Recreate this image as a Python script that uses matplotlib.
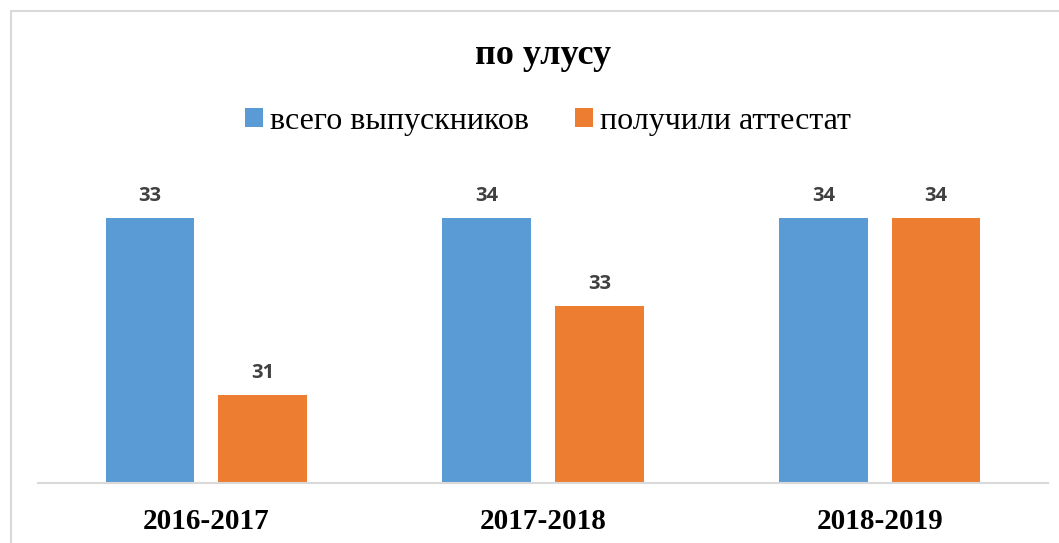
import matplotlib
matplotlib.use("Agg")
import matplotlib.pyplot as plt
from matplotlib.patches import Rectangle
import numpy as np

# data
categories = ["2016-2017", "2017-2018", "2018-2019"]
series_names = ["всего выпускников", "получили аттестат"]
total_labels = [33, 34, 34]          # labels shown above blue bars
attest_labels = [31, 33, 34]         # labels shown above orange bars
total_heights = [34, 34, 34]         # bar heights as drawn in the picture
attest_heights = [32, 33, 34]
colors = ["#5B9BD5", "#ED7D31"]

W, H = 1059, 543
fig = plt.figure(figsize=(W / 100, H / 100), dpi=100)

# outer chart border (extends past right/bottom edges)
fig.patches.append(Rectangle((10.5 / W, -0.05), 1.2, 1 - 11 / H + 0.05,
                             transform=fig.transFigure, fill=False,
                             edgecolor="#d9d9d9", linewidth=1.5))

ax_left, ax_right = 38, 1048
base_y, top_y = 483, 170
ax = fig.add_axes([ax_left / W, 1 - base_y / H,
                   (ax_right - ax_left) / W, (base_y - top_y) / H])
ymin = 31
px_per_unit = 265 / 3
ax.set_ylim(ymin, ymin + (base_y - top_y) / px_per_unit)
ax.set_xlim(-0.5, len(categories) - 0.5)

x = np.arange(len(categories))
bw = 0.264
off = 0.1675
b1 = ax.bar(x - off, np.array(total_heights) - ymin, bw, bottom=ymin,
            color=colors[0], label=series_names[0])
b2 = ax.bar(x + off, np.array(attest_heights) - ymin, bw, bottom=ymin,
            color=colors[1], label=series_names[1])

for bars, labs in ((b1, total_labels), (b2, attest_labels)):
    for r, lab in zip(bars, labs):
        ax.annotate(str(lab), (r.get_x() + r.get_width() / 2, r.get_y() + r.get_height()),
                    xytext=(0, 12), textcoords="offset pixels", ha="center", va="bottom",
                    fontsize=14.5, fontweight="bold", color="#404040",
                    family="Open Sans")

for s in ["top", "right", "left"]:
    ax.spines[s].set_visible(False)
ax.spines["bottom"].set_color("#d9d9d9")
ax.spines["bottom"].set_linewidth(1.5)
ax.set_yticks([])
ax.set_xticks(x)
ax.set_xticklabels(categories, fontsize=21, fontweight="bold",
                   family="Liberation Serif")
ax.tick_params(axis="x", length=0, pad=18)

fig.text(543 / W, 1 - 56 / H, "по улусу", ha="center", va="center",
         fontsize=26, fontweight="bold", family="Liberation Serif")

leg = fig.legend(handles=[b1, b2], labels=series_names, loc="center",
                 bbox_to_anchor=(548 / W, 1 - 121 / H), ncol=2, frameon=False,
                 prop={"family": "Liberation Serif", "size": 23},
                 handlelength=0.55, handleheight=0.55, handletextpad=0.22,
                 columnspacing=1.45, borderpad=0, borderaxespad=0)

fig.savefig("out.png", dpi=100)
